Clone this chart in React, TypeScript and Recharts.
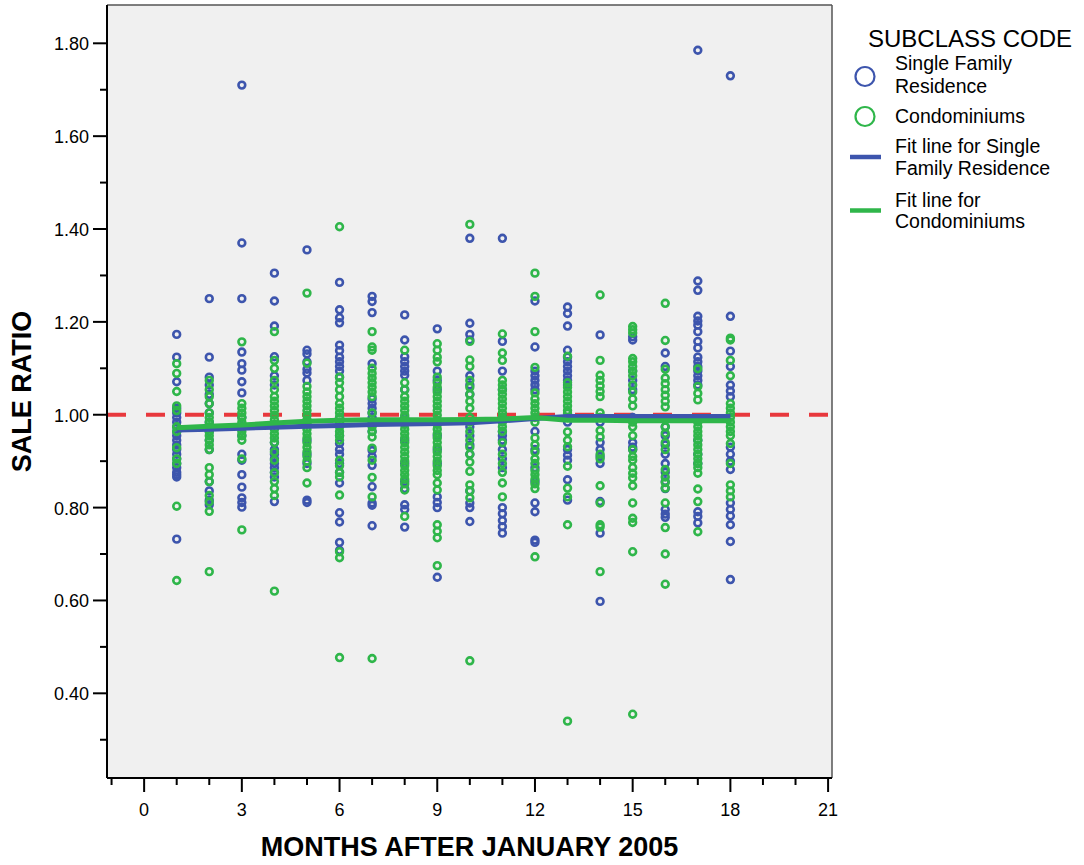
import {
  ScatterChart,
  Scatter,
  XAxis,
  YAxis,
  CartesianGrid,
  ReferenceLine,
} from "recharts";

const FONT = '"Liberation Sans", Arial, Helvetica, sans-serif';
const BLUE = "#3d55ad";
const GREEN = "#2fb64a";
const RED = "#e8383d";

const months = [1, 2, 3, 4, 5, 6, 7, 8, 9, 10, 11, 12, 13, 14, 15, 16, 17, 18];

// sale ratios per month, single family residence
const sfrRatios: number[][] = [
  [1.173, 1.124, 1.071, 1.014, 1.004, 0.994, 0.984, 0.974, 0.964, 0.955, 0.945, 0.935, 0.925, 0.915, 0.905, 0.895, 0.886, 0.876, 0.871, 0.866, 0.732],
  [1.25, 1.124, 1.081, 1.064, 1.044, 1.024, 1.004, 0.984, 0.964, 0.945, 0.925, 0.856, 0.836, 0.816, 0.806],
  [1.71, 1.37, 1.25, 1.135, 1.11, 1.096, 1.071, 1.047, 0.994, 0.974, 0.955, 0.915, 0.902, 0.871, 0.844, 0.821, 0.811, 0.801],
  [1.305, 1.245, 1.191, 1.125, 1.084, 1.064, 0.94, 0.925, 0.915, 0.905, 0.895, 0.886, 0.876, 0.866, 0.813],
  [1.355, 1.139, 1.131, 1.114, 1.098, 1.09, 1.074, 0.984, 0.945, 0.915, 0.895, 0.816, 0.811],
  [1.285, 1.226, 1.209, 1.198, 1.15, 1.138, 1.124, 1.114, 1.104, 1.094, 1.081, 0.994, 0.955, 0.938, 0.925, 0.915, 0.895, 0.876, 0.853, 0.789, 0.769, 0.725, 0.708],
  [1.255, 1.244, 1.22, 1.11, 1.034, 1.024, 1.014, 1.004, 0.994, 0.984, 0.964, 0.923, 0.91, 0.891, 0.845, 0.81, 0.805, 0.761],
  [1.215, 1.161, 1.125, 1.114, 1.104, 1.094, 1.085, 1.054, 0.994, 0.945, 0.895, 0.856, 0.841, 0.806, 0.796, 0.758],
  [1.185, 1.094, 1.074, 1.054, 0.955, 0.925, 0.895, 0.823, 0.811, 0.8, 0.65],
  [1.38, 1.197, 1.173, 1.161, 1.084, 1.064, 1.044, 0.974, 0.955, 0.935, 0.915, 0.836, 0.81, 0.8, 0.77],
  [1.38, 1.158, 1.094, 1.054, 0.994, 0.964, 0.955, 0.945, 0.925, 0.905, 0.886, 0.8, 0.787, 0.772, 0.759, 0.745],
  [1.245, 1.146, 1.094, 1.084, 1.074, 1.064, 1.054, 0.964, 0.925, 0.886, 0.856, 0.81, 0.791, 0.73, 0.725],
  [1.232, 1.218, 1.191, 1.139, 1.124, 1.114, 1.104, 1.094, 1.084, 1.074, 1.064, 0.994, 0.984, 0.925, 0.913, 0.902, 0.86, 0.816],
  [1.172, 0.994, 0.984, 0.94, 0.925, 0.91, 0.895, 0.813, 0.745, 0.598],
  [1.168, 1.161, 1.094, 1.074, 1.054, 0.994, 0.94, 0.93, 0.925],
  [1.133, 1.104, 0.99, 0.974, 0.955, 0.935, 0.915, 0.895, 0.876, 0.856, 0.841, 0.796, 0.786, 0.779],
  [1.785, 1.288, 1.268, 1.212, 1.202, 1.193, 1.179, 1.158, 1.144, 1.124, 1.114, 1.104, 1.094, 1.084, 1.074, 1.064, 0.945, 0.915, 0.895, 0.791, 0.781, 0.767],
  [1.73, 1.212, 1.137, 1.104, 1.064, 1.051, 1.039, 0.93, 0.915, 0.9, 0.882, 0.81, 0.796, 0.782, 0.763, 0.727, 0.645],
];

// sale ratios per month, condominiums
const condoRatios: number[][] = [
  [1.11, 1.089, 1.05, 1.019, 1.009, 0.974, 0.964, 0.929, 0.905, 0.895, 0.803, 0.643],
  [1.074, 1.054, 1.039, 1.024, 1.004, 0.994, 0.984, 0.974, 0.964, 0.955, 0.945, 0.935, 0.925, 0.886, 0.871, 0.856, 0.826, 0.812, 0.792, 0.662],
  [1.157, 1.024, 1.014, 1.004, 0.994, 0.984, 0.974, 0.964, 0.955, 0.945, 0.905, 0.752],
  [1.179, 1.117, 1.1, 1.074, 1.054, 1.039, 1.029, 1.019, 1.009, 0.999, 0.989, 0.979, 0.969, 0.959, 0.95, 0.94, 0.92, 0.902, 0.875, 0.856, 0.841, 0.826, 0.62],
  [1.262, 1.111, 1.061, 1.049, 1.039, 1.029, 1.019, 1.009, 0.999, 0.989, 0.979, 0.969, 0.959, 0.95, 0.94, 0.93, 0.92, 0.91, 0.9, 0.886, 0.853],
  [1.405, 1.081, 1.069, 1.054, 1.039, 1.024, 1.014, 1.004, 0.994, 0.984, 0.974, 0.964, 0.955, 0.945, 0.902, 0.89, 0.876, 0.866, 0.827, 0.705, 0.692, 0.477],
  [1.179, 1.146, 1.139, 1.1, 1.089, 1.079, 1.069, 1.059, 1.049, 1.039, 1.004, 0.974, 0.964, 0.952, 0.928, 0.902, 0.865, 0.823, 0.475],
  [1.139, 1.069, 1.054, 1.039, 1.029, 1.019, 1.009, 0.999, 0.989, 0.979, 0.969, 0.959, 0.95, 0.94, 0.93, 0.92, 0.91, 0.9, 0.89, 0.88, 0.871, 0.861, 0.851, 0.838, 0.781],
  [1.153, 1.139, 1.124, 1.114, 1.081, 1.069, 1.059, 1.049, 1.039, 1.029, 1.019, 1.009, 0.999, 0.989, 0.979, 0.969, 0.959, 0.95, 0.94, 0.93, 0.92, 0.91, 0.9, 0.89, 0.88, 0.871, 0.853, 0.838, 0.763, 0.749, 0.735, 0.675],
  [1.41, 1.158, 1.118, 1.104, 1.074, 1.059, 1.044, 1.029, 1.014, 0.994, 0.984, 0.964, 0.945, 0.93, 0.915, 0.898, 0.878, 0.849, 0.836, 0.821, 0.47],
  [1.174, 1.133, 1.117, 1.074, 1.064, 1.054, 1.044, 1.034, 1.024, 1.014, 1.004, 0.994, 0.984, 0.974, 0.964, 0.94, 0.915, 0.895, 0.876, 0.853, 0.823],
  [1.305, 1.255, 1.179, 1.102, 1.047, 1.034, 1.024, 1.014, 1.004, 0.994, 0.984, 0.95, 0.935, 0.92, 0.905, 0.895, 0.88, 0.871, 0.861, 0.851, 0.841, 0.694],
  [1.126, 1.069, 1.059, 1.049, 1.039, 1.029, 1.019, 1.009, 1.003, 0.963, 0.945, 0.931, 0.889, 0.842, 0.823, 0.763, 0.34],
  [1.258, 1.117, 1.085, 1.074, 1.062, 1.05, 1.039, 1.004, 0.994, 0.966, 0.952, 0.915, 0.905, 0.847, 0.81, 0.763, 0.758, 0.662],
  [1.19, 1.183, 1.176, 1.121, 1.114, 1.104, 1.094, 1.084, 1.064, 1.049, 1.034, 1.019, 0.984, 0.974, 0.955, 0.925, 0.91, 0.902, 0.886, 0.874, 0.864, 0.847, 0.81, 0.777, 0.768, 0.705, 0.355],
  [1.24, 1.16, 1.098, 1.079, 1.067, 1.054, 1.042, 1.029, 1.017, 0.974, 0.96, 0.94, 0.925, 0.882, 0.866, 0.854, 0.842, 0.81, 0.757, 0.7, 0.635],
  [1.099, 1.061, 1.046, 1.032, 0.984, 0.974, 0.964, 0.955, 0.945, 0.935, 0.925, 0.915, 0.905, 0.895, 0.886, 0.874, 0.84, 0.813, 0.748],
  [1.165, 1.161, 1.117, 1.084, 1.024, 1.014, 1.004, 0.994, 0.984, 0.974, 0.964, 0.955, 0.938, 0.895, 0.849, 0.836, 0.823],
];

// fit lines, one value per month
const sfrFit = [0.967, 0.969, 0.971, 0.973, 0.975, 0.977, 0.979, 0.98, 0.981, 0.983, 0.987, 0.992, 0.996, 0.996, 0.996, 0.996, 0.996, 0.996];
const condoFit = [0.972, 0.975, 0.978, 0.982, 0.986, 0.988, 0.989, 0.989, 0.989, 0.99, 0.991, 0.994, 0.988, 0.988, 0.987, 0.987, 0.987, 0.987];

const xTicks = [-1, 0, 1, 2, 3, 4, 5, 6, 7, 8, 9, 10, 11, 12, 13, 14, 15, 16, 17, 18, 19, 20, 21];
const xLabels = [0, 3, 6, 9, 12, 15, 18, 21];
const yTicks = [0.3, 0.4, 0.5, 0.6, 0.7, 0.8, 0.9, 1.0, 1.1, 1.2, 1.3, 1.4, 1.5, 1.6, 1.7, 1.8];
const yLabels = [0.4, 0.6, 0.8, 1.0, 1.2, 1.4, 1.6, 1.8];

const toPoints = (rows: number[][]) =>
  months.flatMap((m, i) => rows[i].map((v) => ({ x: m, y: v })));

const sfrPoints = toPoints(sfrRatios);
const condoPoints = toPoints(condoRatios);
const sfrFitPoints = months.map((m, i) => ({ x: m, y: sfrFit[i] }));
const condoFitPoints = months.map((m, i) => ({ x: m, y: condoFit[i] }));

const ring = (color: string) => (p: any) =>
  <circle cx={p.cx} cy={p.cy} r={3.4} fill="none" stroke={color} strokeWidth={2.6} />;

const noMarker = () => <g />;

const XTick = (props: any) => {
  const { x, y, payload } = props;
  const major = xLabels.includes(payload.value);
  return (
    <g>
      <line x1={x} x2={x} y1={y} y2={y + (major ? 14 : 7)} stroke="#000" strokeWidth={2} />
      {major && (
        <text x={x} y={y + 38} textAnchor="middle" fontSize={18} fontFamily={FONT} fill="#000">
          {payload.value}
        </text>
      )}
    </g>
  );
};

const YTick = (props: any) => {
  const { x, y, payload } = props;
  const major = yLabels.some((v) => Math.abs(v - payload.value) < 1e-6);
  return (
    <g>
      <line x1={x - (major ? 14 : 7)} x2={x} y1={y} y2={y} stroke="#000" strokeWidth={2} />
      {major && (
        <text x={x - 18} y={y + 7} textAnchor="end" fontSize={18} fontFamily={FONT} fill="#000">
          {payload.value.toFixed(2)}
        </text>
      )}
    </g>
  );
};

const XTitle = (props: any) => {
  const vb = props.viewBox || { x: 107, y: 778, width: 725, height: 87 };
  return (
    <text x={vb.x + vb.width / 2} y={vb.y + 78} textAnchor="middle" fontSize={27} fontWeight="bold" fontFamily={FONT} fill="#000">
      MONTHS AFTER JANUARY 2005
    </text>
  );
};

const YTitle = (props: any) => {
  const vb = props.viewBox || { x: 0, y: 5, width: 107, height: 773 };
  const cx = 31;
  const cy = vb.y + vb.height / 2;
  return (
    <text x={cx} y={cy} transform={`rotate(-90 ${cx} ${cy})`} textAnchor="middle" fontSize={27} fontWeight="bold" fontFamily={FONT} fill="#000">
      SALE RATIO
    </text>
  );
};

function LegendBox() {
  const txt = { fontSize: 19.5, fontFamily: FONT, fill: "#000" };
  return (
    <svg width={244} height={240} style={{ position: "absolute", left: 840, top: 0 }}>
      <text x={28} y={46.5} fontSize={24} fontFamily={FONT} fill="#000">SUBCLASS CODE</text>
      <circle cx={25} cy={76.5} r={9.5} fill="none" stroke={BLUE} strokeWidth={2.2} />
      <text x={55} y={70} {...txt}>Single Family</text>
      <text x={55} y={93} {...txt}>Residence</text>
      <circle cx={25} cy={116.5} r={9.5} fill="none" stroke={GREEN} strokeWidth={2.2} />
      <text x={55} y={123} {...txt}>Condominiums</text>
      <line x1={10} x2={41} y1={157} y2={157} stroke={BLUE} strokeWidth={4.5} />
      <text x={55} y={153} {...txt}>Fit line for Single</text>
      <text x={55} y={175} {...txt}>Family Residence</text>
      <line x1={10} x2={41} y1={210.5} y2={210.5} stroke={GREEN} strokeWidth={4.5} />
      <text x={55} y={206.5} {...txt}>Fit line for</text>
      <text x={55} y={228} {...txt}>Condominiums</text>
    </svg>
  );
}

export default function App() {
  return (
    <div style={{ position: "absolute", left: 0, top: 0, width: 1084, height: 865, background: "#fff" }}>
      <ScatterChart width={1084} height={865} margin={{ top: 5, right: 252, bottom: 0, left: 0 }}>
        <CartesianGrid
          fill="#f0f0f0"
          stroke="#555"
          strokeWidth={1.5}
          horizontalPoints={[5]}
          verticalPoints={[832]}
        />
        <XAxis
          type="number"
          dataKey="x"
          domain={[-1.14, 21.12]}
          allowDataOverflow
          ticks={xTicks}
          interval={0}
          height={87}
          tickSize={0}
          tickMargin={0}
          tickLine={false}
          axisLine={{ stroke: "#000", strokeWidth: 2 }}
          tick={<XTick />}
          label={<XTitle />}
        />
        <YAxis
          type="number"
          dataKey="y"
          domain={[0.2176, 1.8825]}
          allowDataOverflow
          ticks={yTicks}
          interval={0}
          width={107}
          tickSize={0}
          tickMargin={0}
          tickLine={false}
          axisLine={{ stroke: "#000", strokeWidth: 2 }}
          tick={<YTick />}
          label={<YTitle />}
        />
        <Scatter name="Single Family Residence" data={sfrPoints} shape={ring(BLUE)} isAnimationActive={false} />
        <Scatter name="Condominiums" data={condoPoints} shape={ring(GREEN)} isAnimationActive={false} />
        <Scatter
          name="Fit line for Single Family Residence"
          data={sfrFitPoints}
          line={{ stroke: BLUE, strokeWidth: 5 }}
          shape={noMarker}
          isAnimationActive={false}
        />
        <Scatter
          name="Fit line for Condominiums"
          data={condoFitPoints}
          line={{ stroke: GREEN, strokeWidth: 5 }}
          shape={noMarker}
          isAnimationActive={false}
        />
        <ReferenceLine y={1} stroke={RED} strokeWidth={4} strokeDasharray="19 20" />
      </ScatterChart>
      <LegendBox />
    </div>
  );
}
